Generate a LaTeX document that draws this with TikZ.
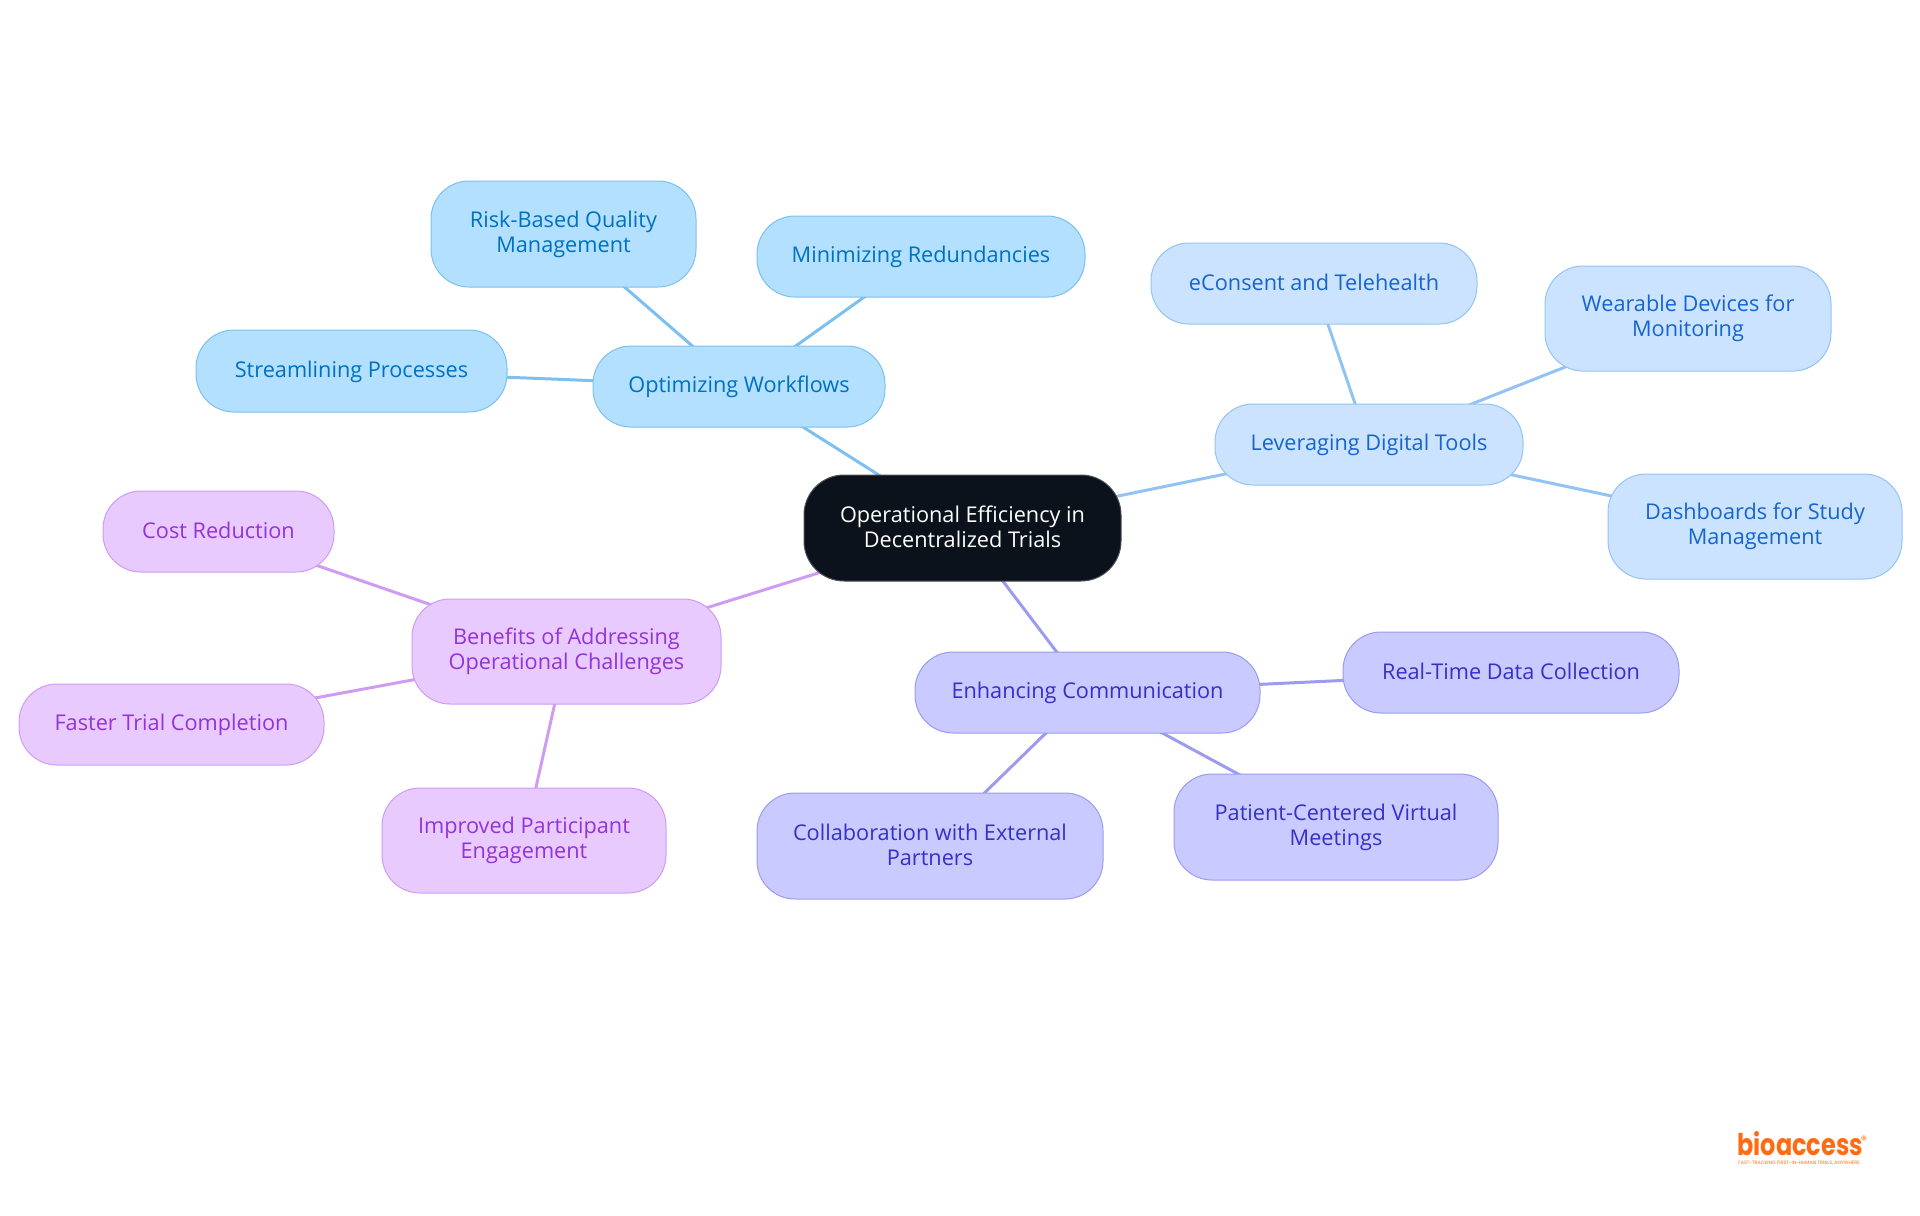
\documentclass[tikz,border=0pt]{standalone}
\usepackage{graphicx}
\usepackage{fontspec}
\setmainfont{Open Sans}
\newfontfamily\logofont{Poppins}
\usetikzlibrary{backgrounds}
\definecolor{rootfill}{HTML}{0B121B}
\definecolor{rootline}{HTML}{4A4F55}
\definecolor{flowfill}{HTML}{B3E0FF}
\definecolor{flowline}{HTML}{7CC0F0}
\definecolor{flowtext}{HTML}{0070C0}
\definecolor{toolfill}{HTML}{CCE3FF}
\definecolor{toolline}{HTML}{93C3F4}
\definecolor{tooltext}{HTML}{1565D0}
\definecolor{commfill}{HTML}{C9CAFF}
\definecolor{commline}{HTML}{9B9BF0}
\definecolor{commtext}{HTML}{3730C8}
\definecolor{gainfill}{HTML}{E8CAFF}
\definecolor{gainline}{HTML}{CE9CF2}
\definecolor{gaintext}{HTML}{9333D8}
\definecolor{logoorange}{HTML}{FF6B13}
\newcommand{\boxStrut}{\rule[-1.75pt]{0pt}{10.5pt}}
\tikzset{
    box/.style={
        rectangle, rounded corners=19pt, inner sep=0pt, line width=0.5pt, align=center,
        font=\fontsize{10.85}{12.5}\selectfont,
        execute at begin node=\boxStrut, execute at end node=\boxStrut
    },
    rootbox/.style={box, fill=rootfill, draw=rootline, text=white, rounded corners=20pt},
    flowbox/.style={box, fill=flowfill, draw=flowline, text=flowtext},
    toolbox/.style={box, fill=toolfill, draw=toolline, text=tooltext},
    commbox/.style={box, fill=commfill, draw=commline, text=commtext},
    gainbox/.style={box, fill=gainfill, draw=gainline, text=gaintext},
    link/.style={line width=1.5pt}
}
% name, style, left, top, right, bottom, text
\newcommand{\mapNode}[7] {
	\node[#2, minimum width={(#5-#3)*0.5pt}, minimum height={(#6-#4)*0.5pt}] (#1) at ({(#3+#5)/2},{(#4+#6)/2}) {#7};
}
\newcommand{\mapLink}[3] {
	\draw[link, #3] (#1.center) -- (#2.center);
}
\begin{document}
\begin{tikzpicture}[x=0.5pt,y=-0.5pt]
		\useasboundingbox (0,0) rectangle (1920,1215);

		% Centre
		\mapNode{root}{rootbox}{804}{475}{1121}{581}{Operational Efficiency in\\Decentralized Trials}

		% Workflows
		\mapNode{flow}{flowbox}{593}{346}{885}{427}{Optimizing Workflows}
		\mapNode{risk}{flowbox}{431}{181}{696}{287}{Risk-Based Quality\\Management}
		\mapNode{redund}{flowbox}{757}{216}{1085}{297}{Minimizing Redundancies}
		\mapNode{stream}{flowbox}{196}{330}{507}{412}{Streamlining Processes}

		% Digital tools
		\mapNode{tools}{toolbox}{1215}{404}{1523}{485}{Leveraging Digital Tools}
		\mapNode{consent}{toolbox}{1151}{243}{1477}{324}{eConsent and Telehealth}
		\mapNode{wear}{toolbox}{1545}{266}{1831}{371}{Wearable Devices for\\Monitoring}
		\mapNode{dash}{toolbox}{1608}{474}{1902}{579}{Dashboards for Study\\Management}

		% Communication
		\mapNode{comm}{commbox}{915}{652}{1260}{733}{Enhancing Communication}
		\mapNode{realtime}{commbox}{1343}{632}{1679}{713}{Real-Time Data Collection}
		\mapNode{patient}{commbox}{1174}{774}{1498}{880}{Patient-Centered Virtual\\Meetings}
		\mapNode{partner}{commbox}{757}{793}{1103}{899}{Collaboration with External\\Partners}

		% Benefits
		\mapNode{gain}{gainbox}{412}{599}{721}{704}{Benefits of Addressing\\Operational Challenges}
		\mapNode{cost}{gainbox}{103}{491}{334}{572}{Cost Reduction}
		\mapNode{faster}{gainbox}{19}{684}{324}{765}{Faster Trial Completion}
		\mapNode{engage}{gainbox}{382}{788}{666}{893}{Improved Participant\\Engagement}

		% Links
		\begin{scope}[on background layer]
			\mapLink{root}{flow}{flowline}
			\mapLink{flow}{risk}{flowline}
			\mapLink{flow}{redund}{flowline}
			\mapLink{flow}{stream}{flowline}
			\mapLink{root}{tools}{toolline}
			\mapLink{tools}{consent}{toolline}
			\mapLink{tools}{wear}{toolline}
			\mapLink{tools}{dash}{toolline}
			\mapLink{root}{comm}{commline}
			\mapLink{comm}{realtime}{commline}
			\mapLink{comm}{patient}{commline}
			\mapLink{comm}{partner}{commline}
			\mapLink{root}{gain}{gainline}
			\mapLink{gain}{cost}{gainline}
			\mapLink{gain}{faster}{gainline}
			\mapLink{gain}{engage}{gainline}
		\end{scope}

		% Logo
		\node[text=logoorange, inner sep=0pt, anchor=base west, font=\logofont\bfseries\fontsize{12}{12}\selectfont] (logo) at (1737,1155) {\scalebox{1}[1.25]{bioaccess}};
		\node[text=logoorange, inner sep=0pt, anchor=center, font=\logofont\fontsize{6}{6}\selectfont] (mark) at (1864,1140) {®};
		\node[text=logoorange, inner sep=0pt, anchor=base west, font=\logofont\fontsize{2.4}{3}\selectfont] (slogan) at (1738,1164) {FAST-TRACKING FIRST-IN-HUMAN TRIALS, ANYWHERE};
	\end{tikzpicture}
\end{document}
